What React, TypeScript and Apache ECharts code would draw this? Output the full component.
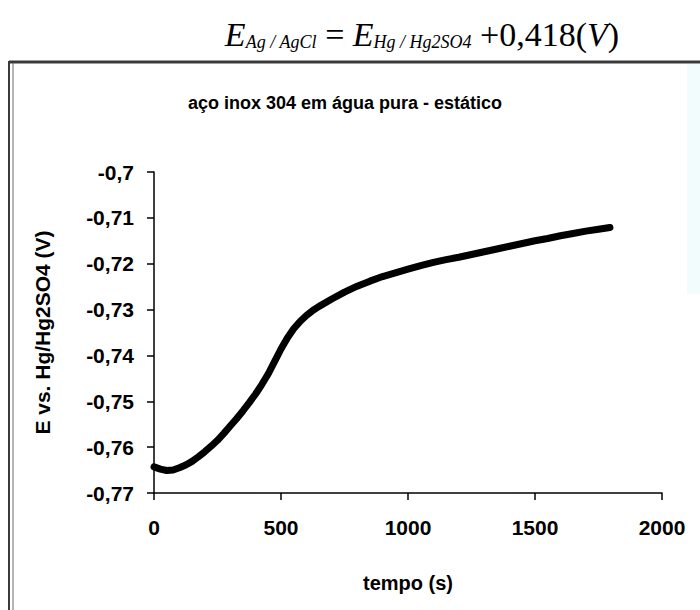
import React, { useEffect, useRef } from "react";
import * as echarts from "echarts";

// tempo (s)
const tempo = [
  0, 25, 50, 75, 100, 125, 150, 175, 200, 225, 250, 275, 300, 325, 350, 375, 400,
  425, 450, 475, 500, 525, 550, 575, 600, 625, 650, 700, 750, 800, 850, 900, 950,
  1000, 1050, 1100, 1150, 1200, 1250, 1300, 1350, 1400, 1450, 1500, 1550, 1600,
  1650, 1700, 1750, 1795,
];
// E vs. Hg/Hg2SO4 (V)
const potencial = [
  -0.7643, -0.7648, -0.7651, -0.765, -0.7645, -0.7639, -0.7631, -0.7621, -0.761,
  -0.7598, -0.7585, -0.757, -0.7554, -0.7538, -0.7521, -0.7503, -0.7484, -0.7463,
  -0.744, -0.7413, -0.7386, -0.7362, -0.7342, -0.7326, -0.7313, -0.7302, -0.7293,
  -0.7277, -0.7262, -0.7249, -0.7238, -0.7228, -0.722, -0.7212, -0.7204, -0.7197,
  -0.7191, -0.7186, -0.718, -0.7174, -0.7168, -0.7162, -0.7156, -0.715, -0.7145,
  -0.7139, -0.7134, -0.7129, -0.7125, -0.7121,
];

const titulo = "aço inox 304 em água pura - estático";
const nomeX = "tempo (s)";
const nomeY = "E vs. Hg/Hg2SO4 (V)";

const sans = "'Liberation Sans', Arial, sans-serif";
const serif = "'Liberation Serif', 'Times New Roman', serif";

export default function App() {
  const ref = useRef<HTMLDivElement>(null);
  useEffect(() => {
    if (!ref.current) return;
    const chart = echarts.init(ref.current, undefined, { renderer: "svg" });
    const data = tempo.map((t, i) => [t, potencial[i]]);
    chart.setOption({
      animation: false,
      backgroundColor: "#ffffff",
      grid: { left: 154, right: 38, top: 172, bottom: 117 },
      xAxis: {
        type: "value",
        min: 0,
        max: 2000,
        interval: 500,
        name: nomeX,
        nameLocation: "middle",
        nameGap: 80,
        nameTextStyle: { fontFamily: sans, fontWeight: "bold", fontSize: 20, color: "#000" },
        axisLine: { onZero: false, lineStyle: { color: "#000", width: 1.5 } },
        axisTick: { show: true, inside: false, length: 7, lineStyle: { color: "#000", width: 1.5 } },
        axisLabel: {
          fontFamily: sans,
          fontWeight: "bold",
          fontSize: 21,
          color: "#000",
          margin: 24,
          formatter: (v: number) => String(Math.round(v)),
        },
        splitLine: { show: false },
      },
      yAxis: {
        type: "value",
        min: -0.77,
        max: -0.7,
        interval: 0.01,
        name: nomeY,
        nameLocation: "middle",
        nameGap: 101,
        nameTextStyle: { fontFamily: sans, fontWeight: "bold", fontSize: 21, color: "#000" },
        axisLine: { show: true, lineStyle: { color: "#000", width: 1.5 } },
        axisTick: { show: true, inside: false, length: 7, lineStyle: { color: "#000", width: 1.5 } },
        axisLabel: {
          fontFamily: sans,
          fontWeight: "bold",
          fontSize: 21,
          color: "#000",
          margin: 20,
          formatter: (v: number) => String(+v.toFixed(2)).replace(".", ","),
        },
        splitLine: { show: false },
      },
      graphic: [
        {
          type: "rect",
          shape: { x: 687, y: 64, width: 13, height: 230 },
          style: { fill: "#f2fcfc" },
          silent: true,
        },
        {
          type: "line",
          shape: { x1: 9, y1: 62, x2: 700, y2: 62 },
          style: { stroke: "#3a3a3a", lineWidth: 3 },
          silent: true,
        },
        {
          type: "line",
          shape: { x1: 9, y1: 61, x2: 9, y2: 610 },
          style: { stroke: "#3a3a3a", lineWidth: 2 },
          silent: true,
        },
        {
          type: "line",
          shape: { x1: 13, y1: 63, x2: 13, y2: 610 },
          style: { stroke: "#6a6a6a", lineWidth: 1 },
          silent: true,
        },
        {
          type: "text",
          x: 345,
          y: 103,
          style: {
            text: titulo,
            fontFamily: sans,
            fontWeight: "bold",
            fontSize: 18,
            fill: "#000",
            align: "center",
            verticalAlign: "middle",
          },
        },
        {
          type: "text",
          x: 422,
          y: 31,
          style: {
            text: "{e|E}{s|Ag / AgCl}{o| = }{e|E}{s|Hg / Hg2SO4}{o| +0,418(}{e|V}{o|)}",
            align: "center",
            verticalAlign: "middle",
            fill: "#000",
            rich: {
              e: { fontFamily: serif, fontStyle: "italic", fontSize: 34, lineHeight: 40, verticalAlign: "bottom" },
              o: { fontFamily: serif, fontSize: 34, lineHeight: 40, verticalAlign: "bottom" },
              s: { fontFamily: serif, fontStyle: "italic", fontSize: 18, lineHeight: 18, verticalAlign: "bottom", padding: [4, 0, 0, 0] },
            },
          },
        },
      ],
      series: [
        {
          type: "line",
          data,
          showSymbol: false,
          smooth: false,
          lineStyle: { color: "#000", width: 7, cap: "round", join: "round" },
          itemStyle: { color: "#000" },
        },
      ],
    });
    return () => chart.dispose();
  }, []);
  return (
    <div
      ref={ref}
      style={{ position: "absolute", left: 0, top: 0, width: 700, height: 610 }}
    />
  );
}
